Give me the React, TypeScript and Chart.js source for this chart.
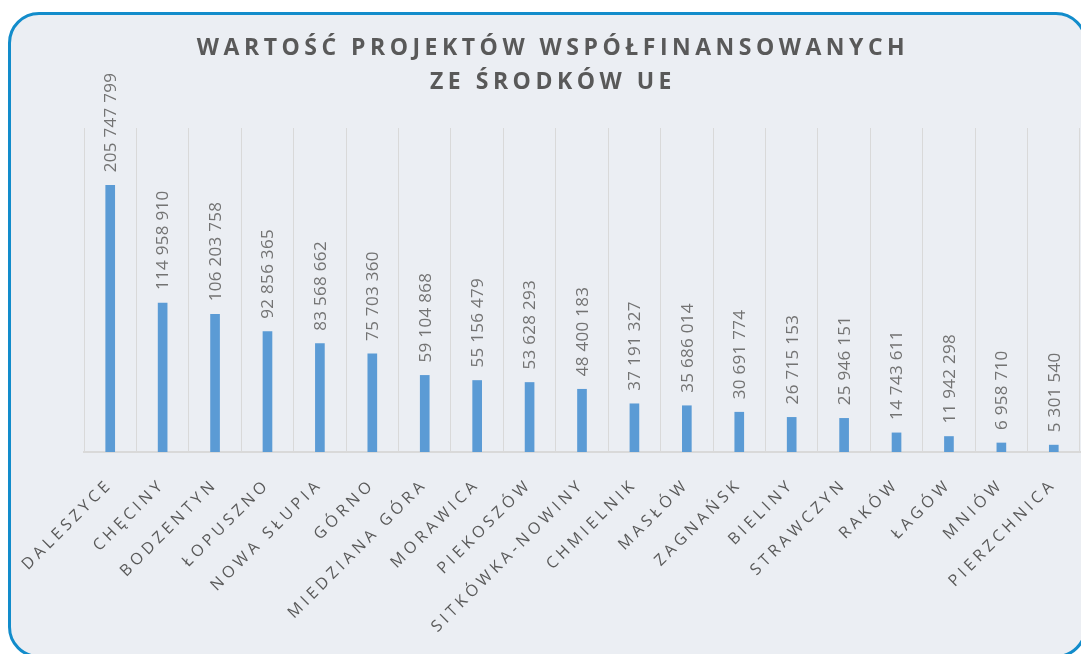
import React, { useEffect, useRef } from "react";
import { Chart, registerables } from "chart.js";

Chart.register(...registerables);

const TITLE_LINES = ["WARTOŚĆ PROJEKTÓW WSPÓŁFINANSOWANYCH", "ZE ŚRODKÓW UE"];

const CATEGORIES = [
  "DALESZYCE",
  "CHĘCINY",
  "BODZENTYN",
  "ŁOPUSZNO",
  "NOWA SŁUPIA",
  "GÓRNO",
  "MIEDZIANA GÓRA",
  "MORAWICA",
  "PIEKOSZÓW",
  "SITKÓWKA-NOWINY",
  "CHMIELNIK",
  "MASŁÓW",
  "ZAGNAŃSK",
  "BIELINY",
  "STRAWCZYN",
  "RAKÓW",
  "ŁAGÓW",
  "MNIÓW",
  "PIERZCHNICA",
];

const VALUES = [
  205747799, 114958910, 106203758, 92856365, 83568662, 75703360, 59104868,
  55156479, 53628293, 48400183, 37191327, 35686014, 30691774, 26715153,
  25946151, 14743611, 11942298, 6958710, 5301540,
];

const Y_MIN = 0;
const Y_MAX = 250000000;

const fmt = (v: number) => String(v).replace(/\B(?=(\d{3})+(?!\d))/g, " ");

export default function App() {
  const ref = useRef<HTMLCanvasElement | null>(null);

  useEffect(() => {
    if (!ref.current) return;

    const spacingPlugin = {
      id: "tickSpacing",
      beforeDraw(chart: any) {
        chart.ctx.letterSpacing = "4px";
      },
      beforeDatasetsDraw(chart: any) {
        chart.ctx.letterSpacing = "0px";
      },
      afterDatasetsDraw(chart: any) {
        const ctx = chart.ctx;
        const meta = chart.getDatasetMeta(0);
        meta.data.forEach((bar: any, i: number) => {
          ctx.save();
          ctx.letterSpacing = "0.3px";
          ctx.translate(bar.x + 1, bar.y - 13);
          ctx.rotate(-Math.PI / 2);
          ctx.textAlign = "left";
          ctx.textBaseline = "middle";
          ctx.font = '17px "Open Sans"';
          ctx.fillStyle = "#737373";
          ctx.fillText(fmt(VALUES[i]), 0, 0);
          ctx.restore();
        });
      },
      afterDraw(chart: any) {
        const ctx = chart.ctx;
        ctx.save();
        ctx.letterSpacing = "4.5px";
        ctx.font = 'bold 23px "Open Sans"';
        ctx.fillStyle = "#595959";
        ctx.textAlign = "center";
        ctx.textBaseline = "alphabetic";
        ctx.fillText(TITLE_LINES[0], 553, 55);
        ctx.fillText(TITLE_LINES[1], 553, 89);
        ctx.restore();
      },
    };

    const chart = new Chart(ref.current, {
      type: "bar",
      data: {
        labels: CATEGORIES,
        datasets: [
          {
            data: VALUES,
            backgroundColor: "#5b9bd5",
            borderWidth: 0,
            barThickness: 9,
          },
        ],
      },
      options: {
        animation: false,
        responsive: false,
        maintainAspectRatio: false,
        layout: { padding: { left: 84, right: 1, top: 128, bottom: 0 } },
        plugins: {
          legend: { display: false },
          title: { display: false },
          tooltip: { enabled: false },
        },
        scales: {
          x: {
            offset: true,
            grid: {
              offset: true,
              color: "#d9d9d9",
              lineWidth: 1,
              drawTicks: false,
            },
            border: { display: true, color: "#d9d9d9", width: 2 },
            ticks: {
              autoSkip: false,
              minRotation: 45,
              maxRotation: 45,
              padding: 23,
              color: "#595959",
              font: { family: "Open Sans", size: 16 },
            },
            afterFit(scale: any) {
              scale.height = 202;
              scale.paddingLeft = 0;
              scale.paddingRight = 0;
            },
          },
          y: {
            display: false,
            min: Y_MIN,
            max: Y_MAX,
            grid: { display: false },
          },
        },
      },
      plugins: [spacingPlugin],
    });

    return () => chart.destroy();
  }, []);

  return (
    <div
      style={{
        position: "fixed",
        left: 0,
        top: 0,
        width: 1081,
        height: 654,
        overflow: "hidden",
        background: "#ffffff",
      }}
    >
      <div
        style={{
          position: "absolute",
          left: 8,
          top: 12,
          width: 1079,
          height: 646,
          boxSizing: "border-box",
          border: "3px solid #128ccb",
          borderRadius: 31,
          background: "#ebeef3",
        }}
      />
      <canvas
        ref={ref}
        width={1081}
        height={654}
        style={{ position: "absolute", left: 0, top: 0, width: 1081, height: 654 }}
      />
    </div>
  );
}
